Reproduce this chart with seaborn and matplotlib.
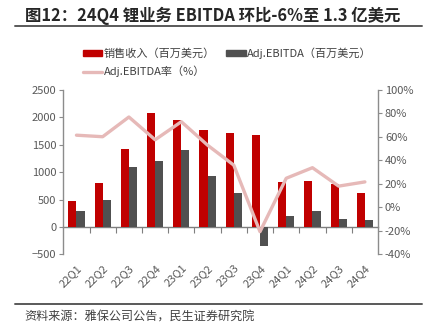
import numpy as np
import pandas as pd
import matplotlib
matplotlib.use("Agg")
import matplotlib.pyplot as plt
from matplotlib.patches import Patch
from matplotlib.lines import Line2D
import seaborn as sns

quarters = ["22Q1", "22Q2", "22Q3", "22Q4", "23Q1", "23Q2", "23Q3", "23Q4",
            "24Q1", "24Q2", "24Q3", "24Q4"]
revenue = [465, 810, 1418, 2080, 1953, 1770, 1710, 1679, 815, 839, 779, 620]
ebitda = [285, 487, 1089, 1204, 1411, 936, 615, -347, 206, 286, 140, 133]
margin = [61.5, 60.2, 77.0, 57.6, 73.0, 53.0, 36.0, -20.7, 24.8, 33.8, 18.1, 21.7]

rev_label = "销售收入（百万美元）"
ebitda_label = "Adj.EBITDA（百万美元）"
margin_label = "Adj.EBITDA率（%）"
title = "图12：24Q4 锂业务 EBITDA 环比-6%至 1.3 亿美元"
source = "资料来源：雅保公司公告，民生证券研究院"

RED = "#C00000"
DARK = "#505050"
PINK = "#E6B9B8"
TICK = "#595959"
SPINE = "#8C8C8C"

sns.set_style("white")
plt.rcParams["font.family"] = ["Noto Sans CJK SC", "DejaVu Sans"]

df = pd.DataFrame({
    "quarter": quarters * 2,
    "value": revenue + ebitda,
    "series": [rev_label] * len(quarters) + [ebitda_label] * len(quarters),
})

fig = plt.figure(figsize=(4.31, 3.34), dpi=100)
ax = fig.add_axes([0.147, 0.2386, 0.730, 0.4919])

sns.barplot(data=df, x="quarter", y="value", hue="series",
            hue_order=[rev_label, ebitda_label],
            palette={rev_label: RED, ebitda_label: DARK},
            width=0.62, saturation=1, linewidth=0, legend=False, ax=ax)
ax.set_xlim(-0.5, len(quarters) - 0.5)
ax.set_ylim(-500, 2500)
ax.set_yticks(np.arange(-500, 2501, 500))
ax.set_xlabel("")
ax.set_ylabel("")

for s in ["top", "right", "bottom"]:
    ax.spines[s].set_visible(False)
ax.spines["left"].set_color(SPINE)
ax.spines["left"].set_linewidth(1.0)
ax.tick_params(axis="y", direction="out", length=3, width=0.8, color=SPINE,
               labelcolor=TICK, labelsize=8, pad=2)
ax.tick_params(axis="x", length=0, labelcolor=TICK, labelsize=8, pad=6)
for lab in ax.get_xticklabels():
    lab.set_rotation(45)
    lab.set_ha("right")
    lab.set_va("top")
    lab.set_rotation_mode("anchor")

# zero line with boundary ticks
zero_frac = (0 - (-500)) / (2500 - (-500))
sec = ax.secondary_xaxis(zero_frac)
sec.set_xticks(np.arange(0.5, len(quarters) - 0.5, 1.0))
sec.tick_params(axis="x", direction="out", length=4, width=0.8, color="#7F7F7F",
                labelbottom=False, labeltop=False, bottom=True, top=False)
sec.set_xticklabels([])
for s in sec.spines:
    sec.spines[s].set_visible(False)
sec.spines["bottom"].set_visible(True)
sec.spines["bottom"].set_color("#7F7F7F")
sec.spines["bottom"].set_linewidth(1.0)

ax2 = ax.twinx()
sns.lineplot(x=np.arange(len(quarters)), y=margin, color=PINK, linewidth=2.4,
             ax=ax2, legend=False)
ax2.set_ylim(-40, 100)
ax2.set_yticks(np.arange(-40, 101, 20))
ax2.set_yticklabels([f"{v}%" for v in range(-40, 101, 20)])
ax2.set_xlim(-0.5, len(quarters) - 0.5)
for s in ["top", "left", "bottom"]:
    ax2.spines[s].set_visible(False)
ax2.spines["right"].set_color(SPINE)
ax2.spines["right"].set_linewidth(1.0)
ax2.tick_params(axis="y", direction="out", length=3, width=0.8, color=SPINE,
                labelcolor=TICK, labelsize=8, pad=2)

handles = [Patch(color=RED), Line2D([], [], color=PINK, linewidth=2.4),
           Patch(color=DARK)]
labels = [rev_label, margin_label, ebitda_label]
fig.legend(handles, labels, ncol=2, loc="upper left", bbox_to_anchor=(0.192, 0.859),
           frameon=False, fontsize=8, handlelength=1.75, handleheight=0.45,
           handletextpad=0.15, columnspacing=1.0, labelspacing=0.65,
           borderpad=0, borderaxespad=0, labelcolor="#404040")

fig.text(0.058, 0.953, title, fontsize=11.8, fontweight="bold", color="#262626",
         ha="left", va="center")
fig.add_artist(Line2D([0.035, 0.979], [0.922, 0.922], color="#595959",
                      linewidth=1.4, transform=fig.transFigure))
fig.add_artist(Line2D([0.035, 0.979], [0.09, 0.09], color="#595959",
                      linewidth=1.4, transform=fig.transFigure))
fig.text(0.056, 0.05, source, fontsize=8.7, color="#404040", ha="left",
         va="center")

fig.savefig("out.png", dpi=100)
